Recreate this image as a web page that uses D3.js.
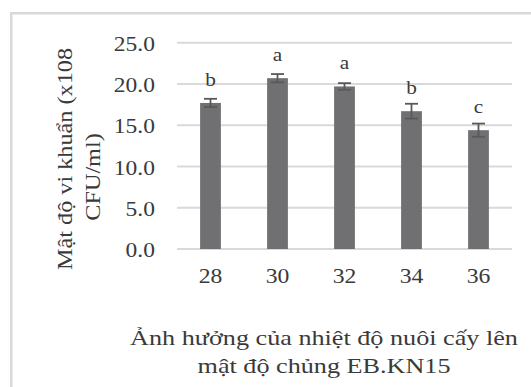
<!DOCTYPE html>
<meta charset="utf-8">
<script src="https://d3js.org/d3.v7.min.js"></script>
<style>
body { margin: 0; background: #fff; }
text { font-family: "Liberation Serif", "Times New Roman", serif; fill: #3a3a3a; }
</style>
<div id="chart"></div>
<script>
// temperatures (°C) and bacterial density (x10^8 CFU/ml)
var temps = ["28", "30", "32", "34", "36"]
var density = [17.7, 20.7, 19.7, 16.7, 14.4]
var errors = [0.5, 0.5, 0.4, 0.9, 0.8]
var letters = ["b", "a", "a", "b", "c"]
var yTicks = [0, 5, 10, 15, 20, 25]

var width = 531, height = 387

var svg = d3.select("#chart").append("svg")
  .attr("width", width)
  .attr("height", height)

// chart frame (runs off the right and bottom edge)
svg.append("rect")
  .attr("x", 11.25).attr("y", 13.25)
  .attr("width", 540).attr("height", 400)
  .attr("fill", "#fff")
  .attr("stroke", "#d9d9d9")
  .attr("stroke-width", 2.5)

var x = d3.scaleBand()
  .domain(temps)
  .range([177, 512])
  .paddingInner(0.69)
  .paddingOuter(0.345)

var y = d3.scaleLinear()
  .domain([0, 25])
  .range([249, 42.7])

// gridlines
svg.append("g")
  .selectAll("line")
  .data(yTicks)
  .enter().append("line")
    .attr("x1", 177).attr("x2", 512)
    .attr("y1", function(d){ return y(d) })
    .attr("y2", function(d){ return y(d) })
    .attr("stroke", "#d9d9d9")
    .attr("stroke-width", 2)

// y axis labels
var yAxis = svg.append("g")
  .attr("transform", "translate(155,1)")
  .call(d3.axisLeft(y).tickValues(yTicks).tickFormat(d3.format(".1f")).tickSize(0).tickPadding(0))
yAxis.select(".domain").remove()
yAxis.selectAll("text")
  .attr("transform", "scale(1.12,1)")
  .style("font-family", "Liberation Serif")
  .style("font-size", "21px")
  .attr("fill", "#3a3a3a")

// x axis labels
var xAxis = svg.append("g")
  .attr("transform", "translate(0,249)")
  .call(d3.axisBottom(x).tickSize(0).tickPadding(19))
xAxis.select(".domain").remove()
xAxis.selectAll("text")
  .attr("transform", "scale(1.1,1)")
  .style("font-family", "Liberation Serif")
  .style("font-size", "21.5px")
  .attr("fill", "#3a3a3a")

// bars
svg.append("g")
  .selectAll("rect")
  .data(density)
  .enter().append("rect")
    .attr("x", function(d, i){ return x(temps[i]) })
    .attr("y", function(d){ return y(d) })
    .attr("width", x.bandwidth())
    .attr("height", function(d){ return y(0) - y(d) })
    .attr("fill", "#707073")

// error bars
var eb = svg.append("g")
  .attr("stroke", "#595959")
  .attr("stroke-width", 1.8)
density.forEach(function(d, i){
  var cx = x(temps[i]) + x.bandwidth() / 2
  eb.append("line")
    .attr("x1", cx).attr("x2", cx)
    .attr("y1", y(d - errors[i])).attr("y2", y(d + errors[i]))
  eb.append("line")
    .attr("x1", cx - 6.5).attr("x2", cx + 6.5)
    .attr("y1", y(d + errors[i])).attr("y2", y(d + errors[i]))
  eb.append("line")
    .attr("x1", cx - 6.5).attr("x2", cx + 6.5)
    .attr("y1", y(d - errors[i])).attr("y2", y(d - errors[i]))
})

// significance letters
svg.append("g")
  .selectAll("text")
  .data(density)
  .enter().append("text")
    .attr("transform", function(d, i){
      return "translate(" + (x(temps[i]) + x.bandwidth() / 2) + "," + (y(d) - 17) + ") scale(1.12,1)"
    })
    .attr("text-anchor", "middle")
    .style("font-size", "19px")
    .text(function(d, i){ return letters[i] })

// y axis title (two lines)
svg.append("text")
  .attr("transform", "translate(71.5,159) rotate(-90) scale(1.155,1)")
  .attr("text-anchor", "middle")
  .style("font-size", "21px")
  .text("Mật độ vi khuẩn (x108")
svg.append("text")
  .attr("transform", "translate(100,177) rotate(-90) scale(1.155,1)")
  .attr("text-anchor", "middle")
  .style("font-size", "21px")
  .text("CFU/ml)")

// x axis title (two lines)
svg.append("text")
  .attr("transform", "translate(324,344.5) scale(1.19,1)")
  .attr("text-anchor", "middle")
  .style("font-size", "22px")
  .text("Ảnh hưởng của nhiệt độ nuôi cấy lên")
svg.append("text")
  .attr("transform", "translate(324,373) scale(1.19,1)")
  .attr("text-anchor", "middle")
  .style("font-size", "22px")
  .text("mật độ chủng EB.KN15")
</script>
